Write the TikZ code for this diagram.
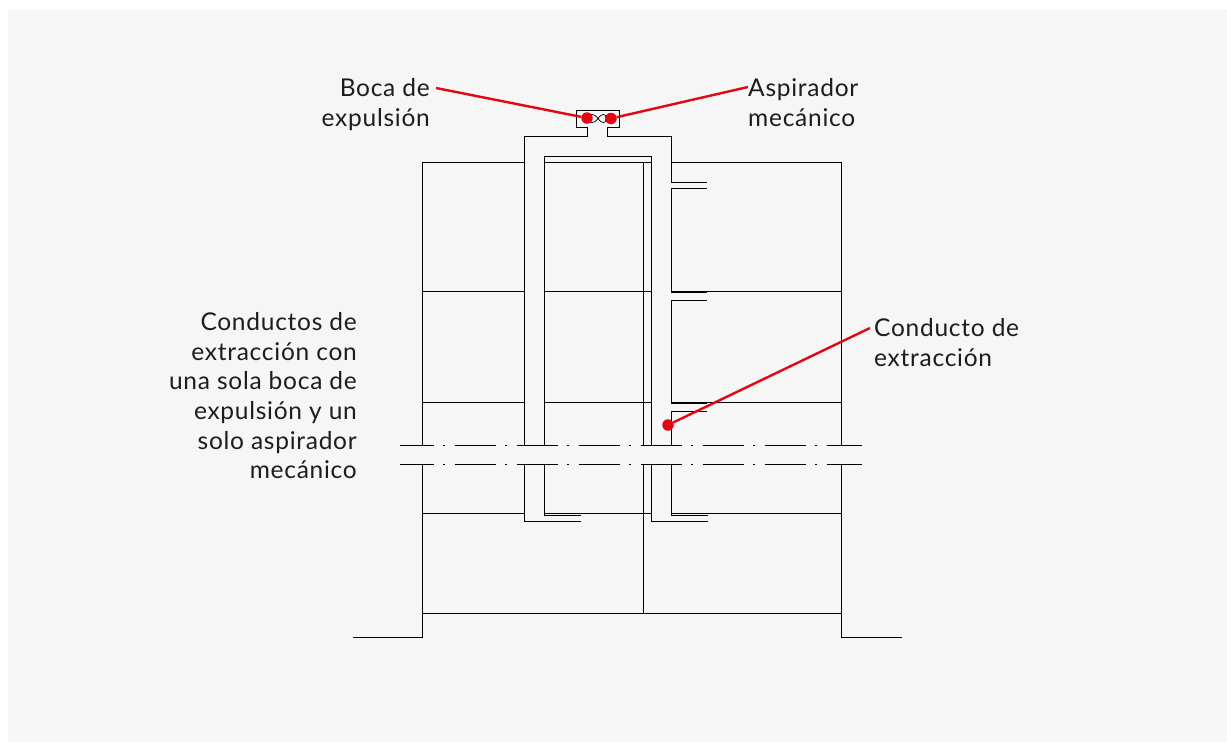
\documentclass[tikz,border=0pt]{standalone}
\usepackage{fontspec}
\setmainfont{Lato}[LetterSpace=3]
\usepackage{tikz}
\usetikzlibrary{positioning}
\definecolor{panelgray}{HTML}{F6F6F6}
\definecolor{leaderred}{HTML}{E30613}
\definecolor{labelblack}{HTML}{1D1D1B}

\begin{document}
\begin{tikzpicture}[
	x=1pt, y=-1pt,
	wallline/.style={draw=black, line width=0.85pt},
	fanline/.style={draw=black, line width=0.7pt},
	breakline/.style={draw=black, line width=0.85pt, dash pattern=on 41pt off 9.75pt on 1.5pt off 9.75pt, dash phase=7.3pt},
	leaderline/.style={draw=leaderred, line width=2.4pt},
	leaderdot/.style={circle, fill=leaderred, inner sep=0pt, minimum size=11.5pt},
	labelnode/.style={text=labelblack, inner sep=0pt, font=\fontsize{24.5}{29.6}\selectfont},
	]
	\useasboundingbox (0,0) rectangle (1227,742);
	\fill[white] (0,0) rectangle (1227,742);
	\fill[panelgray] (8,10) rectangle (1227,742);

	%Building
	\draw[wallline] (353,637.5) -- (422,637.5) -- (422,464);
	\draw[wallline] (422,445) -- (422,162) -- (524.5,162);
	\draw[wallline] (902,637.5) -- (841,637.5) -- (841,464);
	\draw[wallline] (841,445) -- (841,162) -- (671,162);
	\draw[wallline] (422,291) -- (524.5,291);
	\draw[wallline] (544,291) -- (651,291);
	\draw[wallline] (671,291) -- (841,291);
	\draw[wallline] (422,402) -- (524.5,402);
	\draw[wallline] (544,402) -- (651,402);
	\draw[wallline] (671,402) -- (841,402);
	\draw[wallline] (422,513) -- (524.5,513);
	\draw[wallline] (544,513) -- (651,513);
	\draw[wallline] (671,513) -- (841,513);
	\draw[wallline] (422,613) -- (841,613);
	\draw[wallline] (643.7,162) -- (643.7,445);
	\draw[wallline] (643.7,464) -- (643.7,613);

	%Ducts
	\draw[wallline] (524.5,445) -- (524.5,136) -- (587,136) -- (587,127) -- (576,127) -- (576,110.5) -- (619,110.5) -- (619,127) -- (607,127) -- (607,136) -- (671,136) -- (671,182) -- (707,182);
	\draw[wallline] (544,445) -- (544,156.5) -- (651,156.5) -- (651,445);
	\draw[wallline] (544,162) -- (651,162);
	\draw[wallline] (707,188.5) -- (671,188.5) -- (671,292.5) -- (707,292.5);
	\draw[wallline] (707,300) -- (671,300) -- (671,403.5) -- (707,403.5);
	\draw[wallline] (707,411) -- (671,411) -- (671,445);
	\draw[wallline] (581,521) -- (524.5,521) -- (524.5,464);
	\draw[wallline] (581,515) -- (544,515) -- (544,464);
	\draw[wallline] (708,521) -- (651,521) -- (651,464);
	\draw[wallline] (708,515) -- (671,515) -- (671,464);

	%Fan
	\draw[fanline] (598,118.5) .. controls (594,113) and (589,113) .. (589,118.5) .. controls (589,124) and (594,124) .. (598,118.5);
	\draw[fanline] (598,118.5) .. controls (602,113) and (606,113) .. (606,118.5) .. controls (606,124) and (602,124) .. (598,118.5);

	%Break
	\draw[breakline] (400,445) -- (862,445);
	\draw[breakline] (400,464) -- (862,464);

	%Nodes
	\node[leaderdot] (dotboca) at (587,118) {};
	\node[leaderdot] (dotaspirador) at (611,118.5) {};
	\node[leaderdot] (dotconducto) at (668,425) {};
	\node[labelnode, align=right, anchor=north east] (boca) at (430,78.5) {Boca de\\expulsión};
	\node[labelnode, align=left, anchor=north west] (aspirador) at (748,78.5) {Aspirador\\mecánico};
	\node[labelnode, align=left, anchor=north west] (conducto) at (874,318.5) {Conducto de\\extracción};
	\node[labelnode, align=right, anchor=north east] (conductos) at (357,312.5) {Conductos de\\extracción con\\una sola boca de\\expulsión y un\\solo aspirador\\mecánico};
	\coordinate (bocastart) at (436,88);
	\coordinate (aspiradorstart) at (748,87);
	\coordinate (conductostart) at (870,328);

	%Lines
	\draw[leaderline] (bocastart) -- (dotboca);
	\draw[leaderline] (aspiradorstart) -- (dotaspirador);
	\draw[leaderline] (conductostart) -- (dotconducto);
\end{tikzpicture}
\end{document}
